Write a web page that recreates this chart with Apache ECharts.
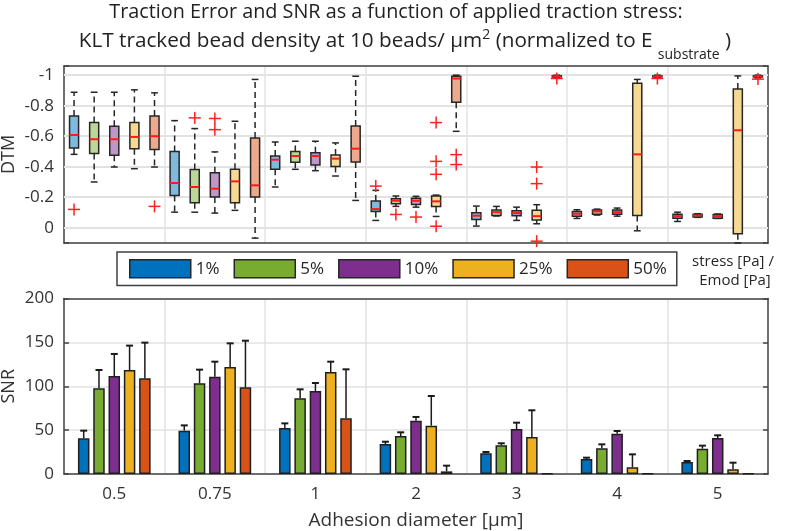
<!DOCTYPE html>
<html>
<head>
<meta charset="utf-8">
<script src="https://cdn.jsdelivr.net/npm/echarts@6/dist/echarts.min.js"></script>
<style>
html, body { margin: 0; padding: 0; background: #fff; }
#chart { width: 787px; height: 531px; }
</style>
</head>
<body>
<div id="chart"></div>
<script>
const categories = ['0.5', '0.75', '1', '2', '3', '4', '5'];
const groups = ['1%', '5%', '10%', '25%', '50%'];
const colors = ['#0072BD', '#77AC30', '#7E2F8E', '#EDB120', '#D95319'];
const dtmTicks = [0, -0.2, -0.4, -0.6, -0.8, -1];

// DTM boxes, one row per diameter: [whisker end, q1, median, q3, whisker end]
const dtm1 = [
  [-0.481, -0.523, -0.608, -0.733, -0.888],
  [-0.102, -0.212, -0.293, -0.499, -0.702],
  [-0.267, -0.383, -0.446, -0.470, -0.562],
  [-0.048, -0.107, -0.122, -0.175, -0.245],
  [-0.011, -0.054, -0.079, -0.098, -0.142],
  [-0.061, -0.076, -0.092, -0.107, -0.118],
  [-0.041, -0.063, -0.076, -0.089, -0.102]
];
const dtm5 = [
  [-0.300, -0.486, -0.580, -0.689, -0.888],
  [-0.102, -0.164, -0.267, -0.381, -0.650],
  [-0.383, -0.429, -0.470, -0.499, -0.567],
  [-0.140, -0.157, -0.177, -0.190, -0.208],
  [-0.077, -0.081, -0.102, -0.116, -0.140],
  [-0.083, -0.089, -0.107, -0.116, -0.122],
  [-0.068, -0.070, -0.081, -0.089, -0.092]
];
const dtm10 = [
  [-0.398, -0.475, -0.580, -0.665, -0.888],
  [-0.096, -0.201, -0.256, -0.361, -0.497],
  [-0.374, -0.411, -0.470, -0.492, -0.567],
  [-0.135, -0.153, -0.177, -0.194, -0.206],
  [-0.048, -0.079, -0.096, -0.112, -0.135],
  [-0.076, -0.089, -0.102, -0.116, -0.129],
  [-0.061, -0.063, -0.076, -0.087, -0.090]
];
const dtm25 = [
  [-0.387, -0.518, -0.595, -0.689, -0.904],
  [-0.114, -0.164, -0.304, -0.383, -0.698],
  [-0.339, -0.402, -0.453, -0.477, -0.556],
  [-0.074, -0.140, -0.173, -0.208, -0.214],
  [-0.026, -0.050, -0.076, -0.114, -0.151],
  [0.020, -0.081, -0.481, -0.947, -0.972],
  [0.100, 0.040, -0.639, -0.910, -0.995]
];
const dtm50 = [
  [-0.398, -0.512, -0.600, -0.733, -0.884],
  [0.068, -0.201, -0.278, -0.588, -0.972],
  [-0.179, -0.431, -0.518, -0.667, -0.993],
  [-0.632, -0.823, -0.978, -0.993, -1.000],
  [-0.982, -0.988, -0.992, -0.996, -1.000],
  [-0.982, -0.988, -0.992, -0.996, -1.000],
  [-0.982, -0.988, -0.992, -0.996, -1.000]
];

// outliers per diameter
const out1 = [[-0.12], [], [], [-0.273], [], [], []];
const out5 = [[], [-0.72], [], [-0.087], [], [], []];
const out10 = [[], [-0.716, -0.643], [], [-0.07], [], [], []];
const out25 = [[], [], [], [-0.689, -0.435, -0.35, -0.01], [-0.398, -0.289, 0.088], [], []];
const out50 = [[-0.14], [], [], [-0.479, -0.414], [-0.978], [-0.978], [-0.974]];

// SNR means and error bars
const snr1 = [40.6, 49.4, 52.4, 34.2, 23.6, 17.1, 13.7];
const snr5 = [97.6, 103.3, 86.2, 43.3, 32.7, 29.3, 28.9];
const snr10 = [111.7, 110.9, 94.6, 60.8, 51.3, 45.9, 41.0];
const snr25 = [118.5, 121.9, 116.2, 55.1, 42.2, 7.6, 5.3];
const snr50 = [109.0, 98.8, 63.4, 3.0, 0.4, 0.3, 0.3];
const err1 = [8.8, 6.0, 5.3, 2.6, 1.5, 1.5, 1.1];
const err5 = [20.9, 15.6, 10.3, 4.2, 2.3, 4.5, 3.4];
const err10 = [25.1, 17.1, 9.1, 4.2, 7.2, 3.1, 3.1];
const err25 = [27.8, 27.0, 11.8, 33.8, 30.4, 14.8, 7.6];
const err50 = [40.7, 53.1, 55.9, 6.5, 0, 0, 0];

const dtm = [dtm1, dtm5, dtm10, dtm25, dtm50];
const outs = [out1, out5, out10, out25, out50];
const snr = [snr1, snr5, snr10, snr25, snr50];
const errs = [err1, err5, err10, err25, err50];

const FONT = '"Open Sans", "Noto Sans", sans-serif';
const INK = '#262626';
const AXIS = '#444';
const GRID = '#e2e2e2';
const BAR_W = 11.5;
const BAR_GAP = 0.33;

function lighten(hex) {
  const n = parseInt(hex.slice(1), 16);
  const c = [n >> 16, (n >> 8) & 255, n & 255].map(v => Math.round((v + 255) / 2));
  return 'rgb(' + c.join(',') + ')';
}

function boxItem(k) {
  return function (params, api) {
    const cat = api.value(0);
    const band = api.size([1, 0])[0];
    const cx = api.coord([cat, 0])[0] + (k - 2) * band * 0.2;
    const half = band * 0.045;
    const cap = half * 0.75;
    const y = [1, 2, 3, 4, 5].map(d => api.coord([cat, api.value(d)])[1]);
    const whisk = { stroke: INK, lineWidth: 1.5, lineDash: [6, 4] };
    const solid = { stroke: INK, lineWidth: 1.5 };
    const kids = [
      { type: 'line', shape: { x1: cx, y1: y[1], x2: cx, y2: y[0] }, style: whisk },
      { type: 'line', shape: { x1: cx, y1: y[3], x2: cx, y2: y[4] }, style: whisk },
      { type: 'line', shape: { x1: cx - cap, y1: y[0], x2: cx + cap, y2: y[0] }, style: solid },
      { type: 'line', shape: { x1: cx - cap, y1: y[4], x2: cx + cap, y2: y[4] }, style: solid },
      { type: 'rect', shape: { x: cx - half, y: Math.min(y[1], y[3]), width: 2 * half, height: Math.abs(y[3] - y[1]) },
        style: { fill: lighten(colors[k]), stroke: INK, lineWidth: 1.5 } },
      { type: 'line', shape: { x1: cx - half, y1: y[2], x2: cx + half, y2: y[2] }, style: { stroke: '#ff1a1a', lineWidth: 2 } }
    ];
    outs[k][params.dataIndex].forEach(v => {
      const py = api.coord([cat, v])[1];
      const s = 6;
      kids.push({ type: 'line', shape: { x1: cx - s, y1: py, x2: cx + s, y2: py }, style: { stroke: '#ff2020', lineWidth: 1.5 } });
      kids.push({ type: 'line', shape: { x1: cx, y1: py - s, x2: cx, y2: py + s }, style: { stroke: '#ff2020', lineWidth: 1.5 } });
    });
    return { type: 'group', children: kids };
  };
}

function errItem(k) {
  return function (params, api) {
    const cat = api.value(0);
    const e = api.value(2);
    if (!e) return { type: 'group', children: [] };
    const x = api.coord([cat, 0])[0] + (k - 2) * BAR_W * (1 + BAR_GAP);
    const y0 = api.coord([cat, api.value(1)])[1];
    const y1 = api.coord([cat, api.value(1) + e])[1];
    return {
      type: 'group',
      children: [
        { type: 'line', shape: { x1: x, y1: y0, x2: x, y2: y1 }, style: { stroke: '#1a1a1a', lineWidth: 1.5 } },
        { type: 'line', shape: { x1: x - 3.5, y1: y1, x2: x + 3.5, y2: y1 }, style: { stroke: '#1a1a1a', lineWidth: 2 } }
      ]
    };
  };
}

const lineStyle = { color: AXIS, width: 1.5 };
function catAxis(grid, pos, labels, split, name) {
  return {
    gridIndex: grid, type: 'category', data: categories, position: pos,
    axisLine: { onZero: false, lineStyle: lineStyle },
    axisTick: { inside: true, alignWithLabel: true, length: 5, lineStyle: lineStyle },
    axisLabel: { show: labels, margin: 12, color: '#333', fontSize: 17, fontFamily: FONT },
    splitLine: { show: split, lineStyle: { color: GRID, width: 1.5 } },
    name: name || '', nameLocation: 'middle', nameGap: 37, nameMoveOverlap: false,
    nameTextStyle: { color: '#333', fontSize: 19, fontFamily: FONT }
  };
}
function valAxis(grid, pos, extra) {
  return Object.assign({
    gridIndex: grid, type: 'value', position: pos,
    axisLine: { show: true, onZero: false, lineStyle: lineStyle },
    axisTick: { show: true, inside: true, length: 5, lineStyle: lineStyle },
    axisLabel: { show: pos === 'left', margin: 10, color: '#333', fontSize: 17, fontFamily: FONT },
    splitLine: { show: pos === 'left', lineStyle: { color: GRID, width: 1.5 } },
    nameLocation: 'middle', nameGap: 46, nameMoveOverlap: false,
    nameTextStyle: { color: '#333', fontSize: 18, fontFamily: FONT }
  }, extra);
}
const dtmExtent = { inverse: true, min: -1.06, max: 0.1, splitNumber: 5 };
const dtmLabels = {
  formatter: v => (Math.abs(v * 5 - Math.round(v * 5)) < 1e-6 ? String(+v.toFixed(1)) : '')
};

const series = [];
groups.forEach((g, k) => {
  series.push({
    name: g, type: 'bar', xAxisIndex: 2, yAxisIndex: 2,
    data: snr[k], barWidth: BAR_W, barGap: (BAR_GAP * 100) + '%',
    itemStyle: { color: colors[k], borderColor: '#1f1f1f', borderWidth: 1.5 }
  });
});
groups.forEach((g, k) => {
  series.push({
    name: 'err ' + g, type: 'custom', xAxisIndex: 2, yAxisIndex: 2, z: 3,
    renderItem: errItem(k),
    encode: { x: 0, y: 1 },
    data: snr[k].map((v, i) => [i, v, errs[k][i]])
  });
});
groups.forEach((g, k) => {
  series.push({
    name: 'box ' + g, type: 'custom', xAxisIndex: 0, yAxisIndex: 0, z: 3,
    renderItem: boxItem(k),
    encode: { x: 0, y: [1, 2, 3, 4, 5] },
    data: dtm[k].map((r, i) => [i].concat(r))
  });
});

const sideText = [
  { type: 'text', x: 733, y: 262, style: { text: 'stress [Pa] /', fontSize: 15, fontFamily: FONT, fill: '#262626', align: 'center', verticalAlign: 'middle' } },
  { type: 'text', x: 735, y: 281, style: { text: 'Emod [Pa]', fontSize: 15, fontFamily: FONT, fill: '#262626', align: 'center', verticalAlign: 'middle' } }
];

const chart = echarts.init(document.getElementById('chart'), null, { renderer: 'canvas' });
chart.setOption({
  animation: false,
  backgroundColor: '#fff',
  textStyle: { fontFamily: FONT },
  title: [
    {
      text: 'Traction Error and SNR as a function of applied traction stress:',
      left: 396, top: 0, textAlign: 'center', padding: 0,
      textStyle: { fontFamily: FONT, fontSize: 19.8, fontWeight: 'normal', color: '#222', lineHeight: 24 }
    },
    {
      text: 'KLT tracked bead density at 10 beads/ \u03bcm{sup|2} (normalized to E {sub|substrate} )',
      left: 405, top: 19, textAlign: 'center', padding: 0,
      textStyle: {
        fontFamily: FONT, fontSize: 20.7, fontWeight: 'normal', color: '#222', lineHeight: 44,
        rich: {
          sup: { fontFamily: FONT, fontSize: 14, color: '#222', lineHeight: 16, padding: [0, 0, 12, 0] },
          sub: { fontFamily: FONT, fontSize: 14, color: '#222', lineHeight: 16, padding: [28, 0, 0, 0] }
        }
      }
    }
  ],
  legend: {
    data: groups, left: 117, top: 252, orient: 'horizontal',
    itemWidth: 61, itemHeight: 18, itemGap: 14, icon: 'rect',
    padding: [7, 10, 7, 12],
    borderColor: '#404040', borderWidth: 1.5,
    itemStyle: { borderColor: '#262626', borderWidth: 1.5 },
    textStyle: { color: '#262626', fontSize: 17, fontFamily: FONT }
  },
  graphic: sideText,
  grid: [
    { left: 64, right: 19, top: 66, height: 177, outerBoundsMode: 'none', containLabel: false },
    { left: 64, right: 19, top: 298.5, height: 175.5, outerBoundsMode: 'none', containLabel: false }
  ],
  xAxis: [
    catAxis(0, 'bottom', false, true),
    catAxis(0, 'top', false, false),
    catAxis(1, 'bottom', true, true, 'Adhesion diameter [\u03bcm]'),
    catAxis(1, 'top', false, false)
  ],
  yAxis: [
    valAxis(0, 'left', Object.assign({ name: 'DTM', axisLabel: Object.assign({ margin: 10, color: '#333', fontSize: 17, fontFamily: FONT }, dtmLabels) }, dtmExtent)),
    valAxis(0, 'right', dtmExtent),
    valAxis(1, 'left', { name: 'SNR', min: 0, max: 200, interval: 50 }),
    valAxis(1, 'right', { min: 0, max: 200, interval: 50 })
  ],
  series: series
});

// horizontal DTM grid lines placed through the axis scale
const gx0 = chart.convertToPixel({ xAxisIndex: 0 }, 0);
const gx1 = chart.convertToPixel({ xAxisIndex: 0 }, categories.length - 1);
const gband = (gx1 - gx0) / (categories.length - 1);
const gridLines = dtmTicks.map(t => {
  const gy = Math.round(chart.convertToPixel({ yAxisIndex: 0 }, t));
  return {
    type: 'rect', z: 1, silent: true,
    shape: { x: gx0 - gband / 2, y: gy - 1, width: gx1 - gx0 + gband, height: 2 },
    style: { fill: GRID }
  };
});
chart.setOption({ graphic: sideText.concat(gridLines) });
</script>
</body>
</html>
